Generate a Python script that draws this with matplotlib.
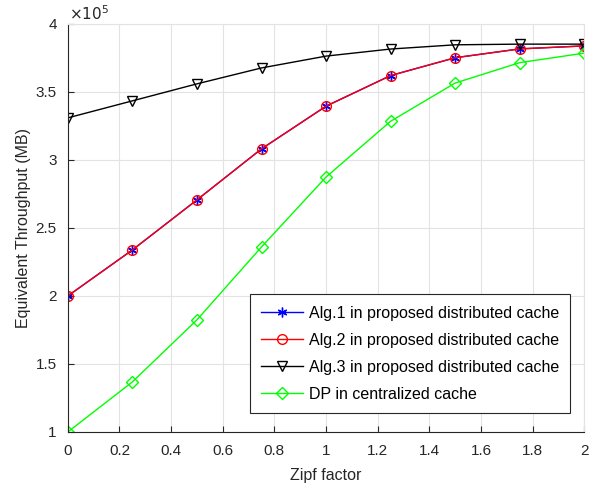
import matplotlib
matplotlib.use("Agg")
import matplotlib.pyplot as plt
from matplotlib.ticker import FuncFormatter

zipf = [0, 0.25, 0.5, 0.75, 1.0, 1.25, 1.5, 1.75, 2.0]
alg1 = [2.0e5, 2.338e5, 2.706e5, 3.081e5, 3.395e5, 3.62e5, 3.751e5, 3.816e5, 3.838e5]
alg2 = [2.0e5, 2.338e5, 2.706e5, 3.081e5, 3.395e5, 3.62e5, 3.751e5, 3.816e5, 3.838e5]
alg3 = [3.309e5, 3.434e5, 3.559e5, 3.676e5, 3.763e5, 3.815e5, 3.846e5, 3.851e5, 3.851e5]
dp = [1.0e5, 1.368e5, 1.824e5, 2.36e5, 2.874e5, 3.284e5, 3.565e5, 3.715e5, 3.785e5]

labels = ["Alg.1 in proposed distributed cache",
          "Alg.2 in proposed distributed cache",
          "Alg.3 in proposed distributed cache",
          "DP in centralized cache"]

plt.rcParams['font.family'] = ['Liberation Sans', 'DejaVu Sans']
plt.rcParams['font.size'] = 11

fig = plt.figure(figsize=(5.95, 4.87), dpi=100)
ax = fig.add_axes([0.114, 0.113, 0.868, 0.838])

ax.plot(zipf, alg1, color='#0000ff', marker=(6, 2, 0), ms=7, lw=1, label=labels[0])
ax.plot(zipf, alg2, color='#ff0000', marker='o', ms=7, lw=1, mfc='none', label=labels[1])
ax.plot(zipf, alg3, color='black', marker='v', ms=7.5, lw=1, mfc='none', label=labels[2])
ax.plot(zipf, dp, color='#00ff00', marker='D', ms=6, lw=1, mfc='none', label=labels[3])

ax.set_xlim(0, 2)
ax.set_ylim(1e5, 4e5)
ax.set_xticks([0, 0.2, 0.4, 0.6, 0.8, 1, 1.2, 1.4, 1.6, 1.8, 2])
ax.xaxis.set_major_formatter(FuncFormatter(lambda v, p: "%g" % round(v, 1)))
ax.set_yticks([1e5, 1.5e5, 2e5, 2.5e5, 3e5, 3.5e5, 4e5])
ax.yaxis.set_major_formatter(FuncFormatter(lambda v, p: "%g" % (v / 1e5)))
ax.text(0.003, 1.003, r"$\times10^5$", transform=ax.transAxes, fontsize=11,
        color='#262626', va='bottom', ha='left')

ax.grid(True, color='#e3e3e3', lw=0.8)
ax.set_axisbelow(True)
ax.tick_params(direction='in', length=4, colors='#262626', labelsize=11,
               top=False, right=False)
ax.tick_params(axis='x', pad=9)
ax.tick_params(axis='y', pad=8)
for s in ax.spines.values():
    s.set_color('#262626')
    s.set_linewidth(0.8)
ax.spines['top'].set_color('#e3e3e3')
ax.spines['right'].set_color('#e3e3e3')

ax.set_xlabel("Zipf factor", fontsize=11.5, color='#262626', labelpad=7)
ax.set_ylabel("Equivalent Throughput (MB)", fontsize=11.5, color='#262626', labelpad=3)

leg = ax.legend(loc='lower right', bbox_to_anchor=(0.973, 0.047), fontsize=11.5,
                fancybox=False, edgecolor='#262626', framealpha=1,
                handlelength=2.6, labelspacing=0.75, borderpad=0.7,
                borderaxespad=0, handletextpad=0.4)
leg.get_frame().set_linewidth(0.8)

fig.savefig("out.png")
